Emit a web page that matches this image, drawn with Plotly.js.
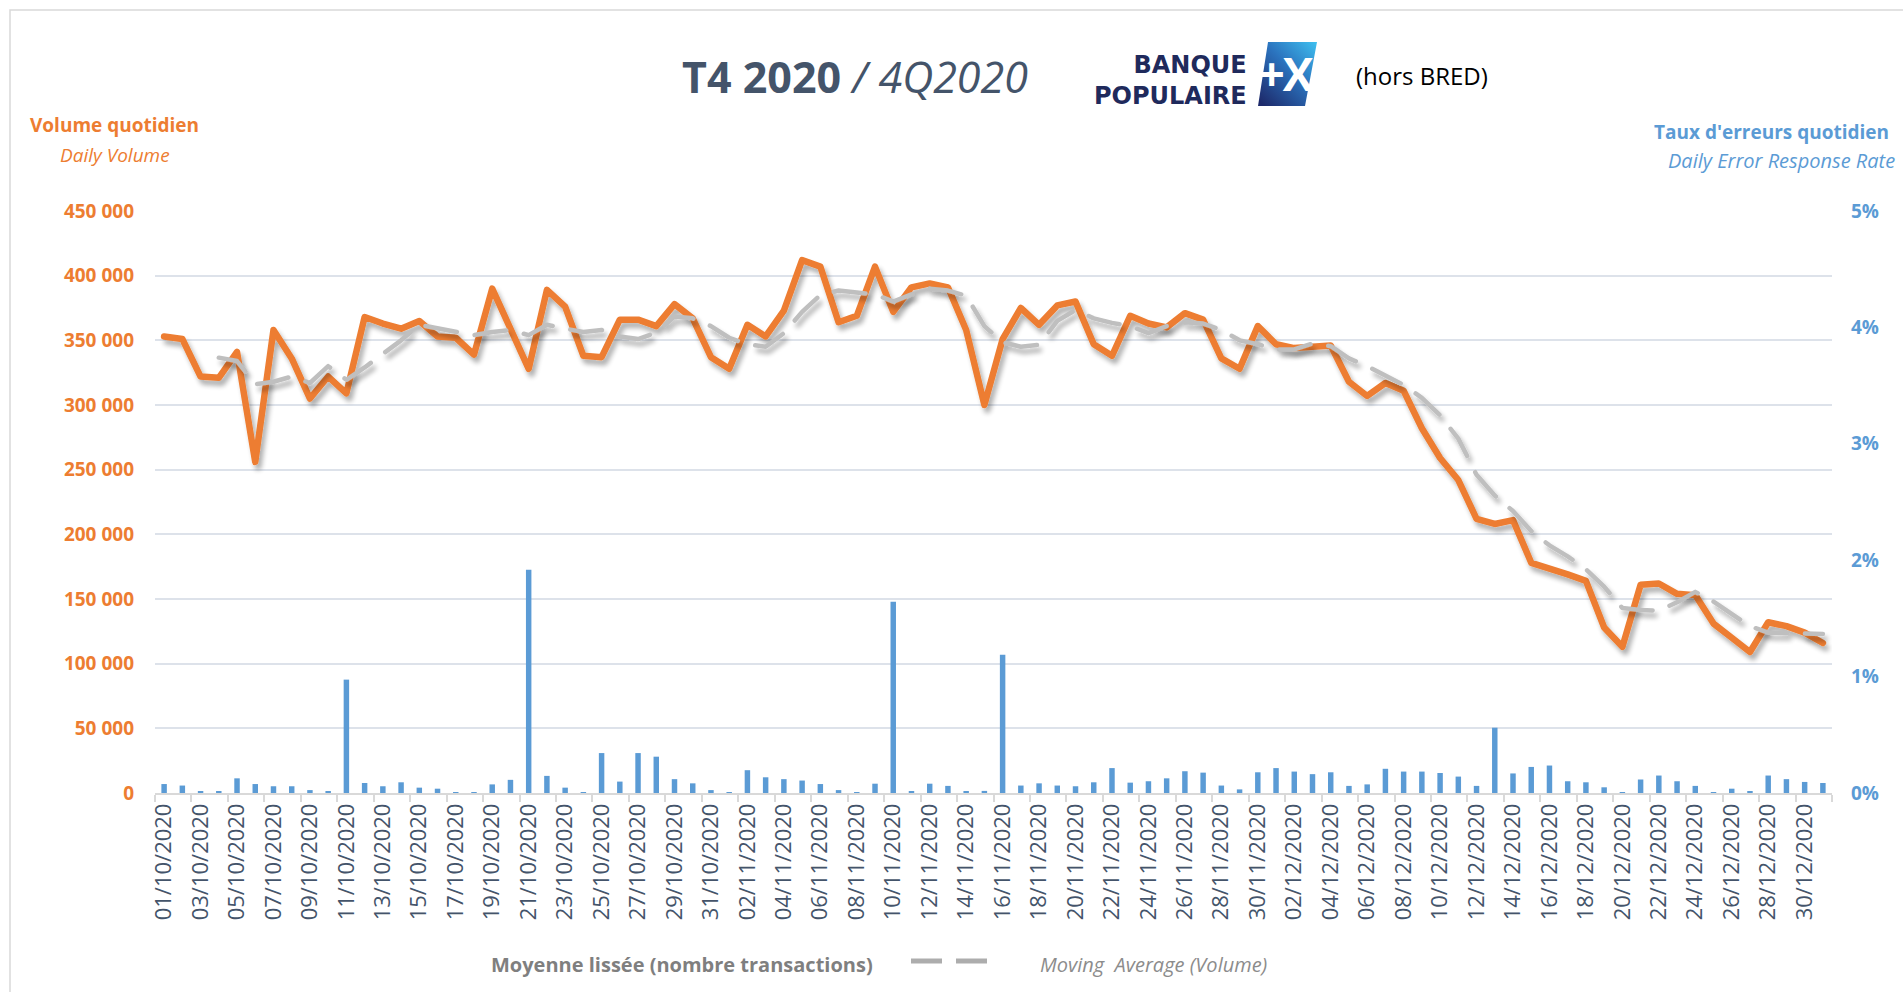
<!DOCTYPE html>
<html><head><meta charset="utf-8">
<script src="https://cdn.plot.ly/plotly-3.0.1.min.js"></script>
<style>
html,body{margin:0;padding:0;background:#fff;overflow:hidden;}
#chart{width:1903px;height:992px;}
.js-plotly-plot .scatterlayer .js-line{stroke-linecap:round;stroke-linejoin:round;filter:url(#dshadow);}
</style></head><body>
<svg width="0" height="0" style="position:absolute">
  <defs>
    <filter id="dshadow" filterUnits="userSpaceOnUse" x="-200" y="-200" width="3000" height="2000">
      <feGaussianBlur in="SourceAlpha" stdDeviation="2.5"/>
      <feOffset dx="3" dy="5" result="ob"/>
      <feComponentTransfer><feFuncA type="linear" slope="0.32"/></feComponentTransfer>
      <feMerge><feMergeNode/><feMergeNode in="SourceGraphic"/></feMerge>
    </filter>
  </defs>
</svg>
<div id="chart"></div>
<script>
const dates = [
"01/10/2020","02/10/2020","03/10/2020","04/10/2020","05/10/2020","06/10/2020","07/10/2020","08/10/2020","09/10/2020","10/10/2020",
"11/10/2020","12/10/2020","13/10/2020","14/10/2020","15/10/2020","16/10/2020","17/10/2020","18/10/2020","19/10/2020","20/10/2020",
"21/10/2020","22/10/2020","23/10/2020","24/10/2020","25/10/2020","26/10/2020","27/10/2020","28/10/2020","29/10/2020","30/10/2020",
"31/10/2020","01/11/2020","02/11/2020","03/11/2020","04/11/2020","05/11/2020","06/11/2020","07/11/2020","08/11/2020","09/11/2020",
"10/11/2020","11/11/2020","12/11/2020","13/11/2020","14/11/2020","15/11/2020","16/11/2020","17/11/2020","18/11/2020","19/11/2020",
"20/11/2020","21/11/2020","22/11/2020","23/11/2020","24/11/2020","25/11/2020","26/11/2020","27/11/2020","28/11/2020","29/11/2020",
"30/11/2020","01/12/2020","02/12/2020","03/12/2020","04/12/2020","05/12/2020","06/12/2020","07/12/2020","08/12/2020","09/12/2020",
"10/12/2020","11/12/2020","12/12/2020","13/12/2020","14/12/2020","15/12/2020","16/12/2020","17/12/2020","18/12/2020","19/12/2020",
"20/12/2020","21/12/2020","22/12/2020","23/12/2020","24/12/2020","25/12/2020","26/12/2020","27/12/2020","28/12/2020","29/12/2020",
"30/12/2020","31/12/2020"];

const dailyVolume = [
353000,351000,322000,321000,341000,256000,358000,336000,305000,322000,
309000,368000,363000,359000,365000,353000,352000,339000,390000,358000,
328000,389000,376000,338000,337000,366000,366000,361000,378000,367000,
337000,328000,362000,353000,373000,412000,407000,364000,369000,407000,
372000,391000,394000,391000,358000,300000,351000,375000,362000,377000,
380000,347000,338000,369000,363000,360000,371000,366000,336000,328000,
361000,347000,344000,345000,346000,318000,307000,317000,311000,282000,
259000,242000,212000,208000,211000,178000,174000,169000,164000,128000,
113000,161000,162000,154000,153000,131000,120000,109000,132000,129000,
124000,116000];

const movingAverage = [
null,null,null,336600,334000,316000,318000,322000,317000,330000,
319500,329000,339000,350000,362000,359500,356500,354000,356500,358000,
354000,362000,359000,356500,358000,353000,351000,356000,368500,367000,
361000,352000,347000,345000,355500,372000,385000,388500,387000,385500,
380000,385500,390000,388500,384500,361000,348500,345000,346500,365000,
373500,367000,363500,361000,355500,361000,364000,363000,358000,350000,
347000,343000,343000,347500,345500,336000,330000,323000,315500,305500,
292000,274000,246000,230000,218000,202500,191500,183000,173000,159500,
143000,141500,141000,147500,155500,148000,138500,129000,124000,123500,
123500,123000];

const errorRate = [
0.077,0.064,0.015,0.012,0.126,0.077,0.058,0.058,0.025,0.012,
0.974,0.086,0.058,0.092,0.046,0.037,0.006,0.006,0.074,0.113,
1.917,0.147,0.046,0.006,0.343,0.098,0.343,0.312,0.119,0.083,
0.025,0.006,0.196,0.135,0.119,0.107,0.077,0.025,0.006,0.080,
1.642,0.012,0.080,0.061,0.015,0.018,1.188,0.064,0.083,0.064,
0.058,0.092,0.214,0.089,0.101,0.126,0.187,0.175,0.064,0.031,
0.178,0.214,0.184,0.162,0.178,0.061,0.074,0.208,0.184,0.184,
0.172,0.141,0.061,0.561,0.168,0.224,0.236,0.101,0.092,0.049,
0.003,0.116,0.150,0.101,0.061,0.002,0.037,0.012,0.150,0.119,
0.095,0.086];

const volumeTicks = [0,50000,100000,150000,200000,250000,300000,350000,400000,450000];
const rateTicks = [0,1,2,3,4,5];
const rateTickLabels = ['0%','1%','2%','3%','4%','5%'];

const ORANGE = '#ED7D31', BLUE = '#5B9BD5', SLATE = '#44546A', NAVY = '#1F2A5C';
const FONT = 'Open Sans, Noto Sans, sans-serif';

// plot area in pixels
const L = 155, R = 1832, T = 211, B = 793;
const px = x => (x - L) / (R - L);
const py = y => (B - y) / (B - T);

const traces = [
  {type:'bar', x:dates, y:errorRate, yaxis:'y', marker:{color:BLUE}, hoverinfo:'x+y', name:"Taux d'erreurs"},
  {type:'scatter', mode:'lines', x:dates, y:dailyVolume, yaxis:'y2', line:{color:ORANGE, width:6.5}, name:'Volume quotidien'},
  {type:'scatter', mode:'lines', x:dates, y:movingAverage, yaxis:'y2', line:{color:'#BFBFBF', width:4.5, dash:'32px,18px'}, connectgaps:false, name:'Moyenne lissée'}
];

const logoSvg = '<svg xmlns="http://www.w3.org/2000/svg" width="70" height="70" viewBox="0 0 70 70">' +
  '<defs><linearGradient id="g" x1="1" y1="0" x2="0.1" y2="1">' +
  '<stop offset="0" stop-color="#3EC0F0"/><stop offset="0.45" stop-color="#2B73BE"/><stop offset="1" stop-color="#1D2A6B"/>' +
  '</linearGradient></defs>' +
  '<polygon points="18,2 67,2 55,66 8,66" fill="url(#g)"/>' +
  '<text x="35" y="51" text-anchor="middle" font-family="Open Sans, DejaVu Sans, sans-serif" font-weight="700" font-size="46" fill="#ffffff" letter-spacing="-2">+X</text>' +
  '</svg>';

const ann = (x, y, text, size, color, xanchor, extra) => Object.assign({
  xref:'paper', yref:'paper', x:px(x), y:py(y), text:text, showarrow:false,
  xanchor:xanchor || 'center', yanchor:'middle',
  font:{family:FONT, size:size, color:color}
}, extra || {});

const layout = {
  width:1903, height:992,
  margin:{l:L, r:1903-R, t:T, b:992-B, pad:0},
  paper_bgcolor:'#ffffff', plot_bgcolor:'#ffffff',
  showlegend:false, separators:'. ', bargap:0.7,
  font:{family:FONT},
  title:{text:'<b>T4 2020</b> <i>/ 4Q2020</i>', x:855/1903, xanchor:'center', xref:'container',
         y:1-78/992, yanchor:'middle', yref:'container', font:{family:FONT, size:43, color:SLATE}},
  xaxis:{type:'category', categoryorder:'array', categoryarray:dates, range:[-0.5, 91.5],
         tickmode:'linear', tick0:0, dtick:2, tickson:'boundaries', ticks:'outside', ticklen:7,
         tickwidth:1.5, tickcolor:'#D9D9D9', showline:true, linecolor:'#D9D9D9', linewidth:1.5,
         tickangle:-90, tickfont:{family:FONT, size:22, color:SLATE}, showgrid:false, zeroline:false},
  yaxis:{side:'right', range:[0,5], tickmode:'array', tickvals:rateTicks, ticktext:rateTickLabels,
         showgrid:false, zeroline:false, ticks:'', ticklabelstandoff:18,
         tickfont:{family:FONT, size:19, color:BLUE, weight:700}},
  yaxis2:{side:'left', overlaying:'y', range:[0,450000], tickmode:'array', tickvals:volumeTicks, tickformat:',d',
          showgrid:true, gridcolor:'#DDE2EA', gridwidth:1.5, zeroline:false, ticks:'', ticklabelstandoff:20,
          tickfont:{family:FONT, size:19, color:ORANGE, weight:700}},
  images:[{source:'data:image/svg+xml;charset=utf-8,' + encodeURIComponent(logoSvg),
           xref:'paper', yref:'paper', x:px(1250), y:py(40), sizex:70/(R-L), sizey:70/(B-T),
           xanchor:'left', yanchor:'top', sizing:'stretch', layer:'above'}],
  shapes:[
    {type:'rect', xref:'paper', yref:'paper', x0:px(10), x1:px(1990), y0:py(10), y1:py(1060),
     line:{color:'#D9D9D9', width:1.5}, fillcolor:'rgba(0,0,0,0)', layer:'above'},
    {type:'line', xref:'paper', yref:'paper', x0:px(911), x1:px(987), y0:py(961), y1:py(961),
     line:{color:'#ADADAD', width:5, dash:'31px,14px'}}
  ],
  annotations:[
    ann(1249, 81, 'BANQUE<br>POPULAIRE', 24, NAVY, 'right',
        {align:'right', font:{family:'DejaVu Sans, Open Sans, sans-serif', size:24, color:NAVY, weight:700}}),
    ann(1422, 76, '(hors BRED)', 24, '#000000'),
    ann(114, 125, '<b>Volume quotidien</b>', 19, ORANGE),
    ann(115, 155, '<i>Daily Volume</i>', 19, ORANGE),
    ann(1891, 132, "<b>Taux d'erreurs quotidien</b>", 19, BLUE, 'right'),
    ann(1897, 160, '<i>Daily Error Response Rate</i>', 20, BLUE, 'right'),
    ann(682, 964, '<b>Moyenne lissée (nombre transactions)</b>', 20, '#7F7F7F'),
    ann(1153, 964, '<i>Moving\u00A0 Average (Volume)</i>', 20, '#8C8C8C')
  ]
};

Plotly.newPlot('chart', traces, layout, {displayModeBar:false, responsive:false});
</script>
</body></html>
